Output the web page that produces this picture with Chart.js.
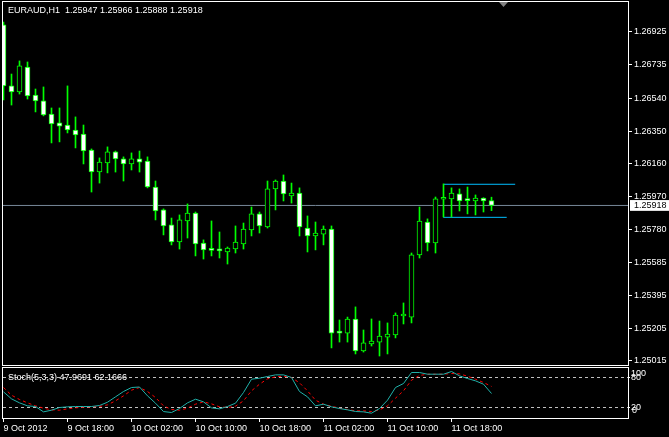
<!DOCTYPE html>
<html><head><meta charset="utf-8">
<script src="https://cdn.jsdelivr.net/npm/chart.js@4"></script>
<style>
html,body{margin:0;padding:0;background:#000;overflow:hidden}
#wrap{position:relative;width:669px;height:437px;background:#000}
canvas{position:absolute;left:0}
#cA{top:0}
#cB{top:366px}
</style></head><body>
<div id="wrap"><canvas id="cA" width="669" height="366"></canvas><canvas id="cB" width="669" height="71"></canvas></div>
<script>
const symbol = 'EURAUD,H1';
const openP = [1.26966,1.26612,1.26577,1.26722,1.26559,1.26525,1.26449,1.26397,1.26385,1.26356,
1.26333,1.26240,1.26112,1.26165,1.26229,1.26188,1.26159,1.26188,1.26176,1.26025,
1.25892,1.25805,1.25706,1.25828,1.25874,1.25700,1.25660,1.25660,1.25648,1.25665,
1.25694,1.25776,1.25869,1.25793,1.26014,1.26060,1.25973,1.25990,1.25787,1.25741,
1.25752,1.25781,1.25180,1.25177,1.25259,1.25073,1.25114,1.25125,1.25154,1.25166,
1.25276,1.25270,1.25631,1.25822,1.25700,1.25954,1.25956,1.25985,1.25950,1.25944,
1.25961,1.25947];
const highP = [1.26983,1.26681,1.26757,1.26751,1.26594,1.26606,1.26484,1.26484,1.26612,1.26432,
1.26385,1.26246,1.26194,1.26258,1.26234,1.26200,1.26223,1.26234,1.26200,1.26060,
1.25898,1.25845,1.25863,1.25927,1.25880,1.25718,1.25828,1.25764,1.25677,1.25799,
1.25816,1.25909,1.25880,1.26060,1.26066,1.26095,1.26048,1.26020,1.25857,1.25822,
1.25799,1.25799,1.25253,1.25270,1.25329,1.25195,1.25259,1.25247,1.25236,1.25294,
1.25352,1.25642,1.25909,1.25840,1.25967,1.26043,1.26020,1.26014,1.26025,1.25979,
1.25963,1.25966];
const lowP = [1.26530,1.26501,1.26565,1.26536,1.26461,1.26438,1.26281,1.26287,1.26339,1.26252,
1.26159,1.25996,1.26048,1.26107,1.26112,1.26060,1.26124,1.26112,1.26020,1.25834,
1.25747,1.25689,1.25665,1.25729,1.25625,1.25607,1.25625,1.25613,1.25578,1.25642,
1.25665,1.25741,1.25758,1.25787,1.25892,1.25944,1.25932,1.25741,1.25648,1.25660,
1.25689,1.25091,1.25125,1.25125,1.25056,1.25067,1.25102,1.25044,1.25056,1.25149,
1.25230,1.25236,1.25613,1.25654,1.25642,1.25851,1.25851,1.25886,1.25869,1.25863,
1.25880,1.25888];
const closeP = [1.26612,1.26577,1.26728,1.26554,1.26525,1.26443,1.26391,1.26379,1.26356,1.26327,
1.26234,1.26112,1.26170,1.26229,1.26188,1.26159,1.26188,1.26170,1.26025,1.25886,
1.25799,1.25706,1.25834,1.25874,1.25694,1.25660,1.25657,1.25654,1.25671,1.25706,
1.25781,1.25869,1.25799,1.26014,1.26060,1.25985,1.25990,1.25793,1.25741,1.25758,
1.25781,1.25177,1.25177,1.25259,1.25073,1.25120,1.25131,1.25160,1.25172,1.25282,
1.25280,1.25631,1.25828,1.25700,1.25956,1.25958,1.25990,1.25944,1.25946,1.25961,
1.25944,1.25918];

const stochMain = [51.3,37.3,29.3,23.3,22,11.3,14.6,20,21.3,22,
22,22,24,30.6,41.3,52,60,61,43.3,28.6,
11.9,10,18,29.3,36.6,31.3,19.3,17.3,22,28.6,
50,76.6,78.6,82,85.3,85.3,80,52,41.3,23.3,
26.6,21.3,18,15.3,12,11.3,8.6,18,34.6,60,
68,90,90,86.6,86.6,86.6,92,83.3,78,73.3,
66.6,47.9691];
const stochSignal = [60,44.6,36,29.3,23.3,18.6,15.3,14.6,17.3,19.3,
20.6,21.3,22,25.3,33.3,43.3,54.6,60,52,40,
23.3,16,14.6,18.6,26.6,31.3,27.3,21.3,20,22.6,
33.3,53.3,66.6,77.3,81.3,82.6,80,69.3,53.3,34.6,
26.6,22.6,18.6,16,13.3,13.3,12,15.3,23.3,38.6,
53.3,74.6,84,86.6,86.6,86.6,88,87.3,82.6,76.6,
70,62.1666];

const priceTicks = [1.25015,1.25205,1.25395,1.25585,1.25780,1.25970,1.26160,1.26350,1.26540,1.26735,1.26925];
const lastPrice = 1.25918;
const timeTickIdx = [0,8,16,24,32,40,48,56];
const timeTickLabels = ['9 Oct 2012','9 Oct 18:00','10 Oct 02:00','10 Oct 10:00','10 Oct 18:00','11 Oct 02:00','11 Oct 10:00','11 Oct 18:00'];
const stochLevels = [20, 80];
const boxTop = 1.26041, boxBottom = 1.25849;
const boxStart = 55, boxEndTop = 63.96, boxEndBottom = 62.9;

const N = openP.length;
const idx = openP.map((_, i) => i);
const X_MIN = -0.0625, X_MAX = 78.0625;
const Y_MIN = 1.24991778, Y_MAX = 1.27099164;
const FONT = {family: '"Liberation Sans", Arial, sans-serif', size: 9};
const FONT_CSS = '9px "Liberation Sans", Arial, sans-serif';
const GREEN = '#00FF00';

const frame = {
  id: 'frame',
  afterDraw(chart) {
    const {ctx, chartArea: a} = chart;
    ctx.save();
    ctx.strokeStyle = '#ffffff'; ctx.lineWidth = 1;
    ctx.strokeRect(a.left - 0.5, a.top - 0.5, a.right - a.left + 1, a.bottom - a.top + 1);
    ctx.restore();
  }
};

const mainText = {
  id: 'mainText',
  afterDraw(chart) {
    const ctx = chart.ctx;
    ctx.save();
    ctx.font = FONT_CSS; ctx.fillStyle = '#ffffff'; ctx.textBaseline = 'middle'; ctx.textAlign = 'left';
    const t = symbol + '  ' + [openP[N-1], highP[N-1], lowP[N-1], closeP[N-1]].map(v => v.toFixed(5)).join(' ');
    ctx.fillText(t, 8, 11);
    const xs = chart.scales.x;
    const px = xs.getPixelForValue(62.5);
    ctx.fillStyle = '#808080';
    ctx.beginPath(); ctx.moveTo(px - 4.5, 2); ctx.lineTo(px + 4.5, 2); ctx.lineTo(px, 7); ctx.closePath(); ctx.fill();
    ctx.restore();
  }
};

new Chart(document.getElementById('cA'), {
  type: 'bar',
  data: {
    datasets: [
      {
        type: 'bar', order: 0,
        data: idx.map(i => ({x: i, y: [openP[i], closeP[i]]})),
        backgroundColor: idx.map(i => closeP[i] < openP[i] ? '#ffffff' : '#000000'),
        borderColor: GREEN, borderWidth: 1, borderSkipped: false,
        barThickness: 5, grouped: false, minBarLength: 2
      },
      {
        type: 'bar', order: 1,
        data: idx.map(i => ({x: i, y: [lowP[i], highP[i]]})),
        backgroundColor: GREEN, borderWidth: 0,
        barThickness: 1, grouped: false
      },
      {
        type: 'line', order: 2,
        data: [{x: boxStart, y: boxBottom}, {x: boxStart, y: boxTop}, {x: boxEndTop, y: boxTop}],
        borderColor: '#00BFFF', borderWidth: 1, pointRadius: 0, tension: 0
      },
      {
        type: 'line', order: 3,
        data: [{x: boxStart, y: boxBottom}, {x: boxEndBottom, y: boxBottom}],
        borderColor: '#00BFFF', borderWidth: 1, pointRadius: 0, tension: 0
      },
      {
        type: 'line', order: 4,
        data: [{x: X_MIN, y: lastPrice}, {x: X_MAX, y: lastPrice}],
        borderColor: '#778899', borderWidth: 1, pointRadius: 0, tension: 0
      }
    ]
  },
  options: {
    responsive: false, animation: false, devicePixelRatio: 1,
    layout: {padding: {left: 3, top: 2, right: 0, bottom: 1}},
    plugins: {legend: {display: false}, tooltip: {enabled: false}, title: {display: false}},
    scales: {
      x: {type: 'linear', min: X_MIN, max: X_MAX, offset: false, display: false, grid: {offset: false}},
      y: {
        position: 'right', min: Y_MIN, max: Y_MAX,
        afterBuildTicks: s => { s.ticks = priceTicks.concat([lastPrice]).map(v => ({value: v})); },
        afterFit: s => { s.width = 41; s.paddingTop = 0; s.paddingBottom = 0; },
        grid: {drawOnChartArea: false, drawTicks: true, tickLength: 4, lineWidth: 1,
               color: c => (c.tick && c.tick.value === lastPrice) ? 'rgba(0,0,0,0)' : '#ffffff'},
        border: {display: false},
        ticks: {
          autoSkip: false, padding: 2, font: FONT,
          color: c => (c.tick && c.tick.value === lastPrice) ? '#000000' : '#ffffff',
          callback: v => Number(v).toFixed(5),
          showLabelBackdrop: c => !!(c.tick && c.tick.value === lastPrice),
          backdropColor: '#ffffff',
          backdropPadding: {left: 4, right: 3, top: 0, bottom: 0}
        }
      }
    }
  },
  plugins: [frame, mainText]
});

const stochText = {
  id: 'stochText',
  afterDraw(chart) {
    const ctx = chart.ctx;
    const ys = chart.scales.y;
    const a = chart.chartArea;
    ctx.save();
    ctx.font = FONT_CSS; ctx.fillStyle = '#ffffff'; ctx.textBaseline = 'middle'; ctx.textAlign = 'left';
    ctx.fillText('Stoch(5,3,3) ' + stochMain[N-1].toFixed(4) + ' ' + stochSignal[N-1].toFixed(4), 8, 12);
    ctx.fillText('100', a.right + 3, ys.getPixelForValue(100) + 6);
    ctx.fillText('0', a.right + 4, ys.getPixelForValue(0) - 7);
    ctx.restore();
  }
};

new Chart(document.getElementById('cB'), {
  type: 'line',
  data: {
    datasets: [
      {data: idx.map(i => ({x: i, y: stochMain[i]})), borderColor: '#20B2AA', borderWidth: 1, pointRadius: 0, tension: 0, order: 0},
      {data: idx.map(i => ({x: i, y: stochSignal[i]})), borderColor: '#FF0000', borderWidth: 1, borderDash: [3, 3], pointRadius: 0, tension: 0, order: 1},
      ...stochLevels.map((lv, j) => ({data: [{x: X_MIN, y: lv}, {x: X_MAX, y: lv}], borderColor: '#C0C0C0', borderWidth: 1, borderDash: [3, 3], pointRadius: 0, order: 2 + j}))
    ]
  },
  options: {
    responsive: false, animation: false, devicePixelRatio: 1,
    layout: {padding: {left: 3, top: 2, right: 0, bottom: 0}},
    plugins: {legend: {display: false}, tooltip: {enabled: false}},
    scales: {
      x: {
        type: 'linear', min: X_MIN, max: X_MAX, offset: false, position: 'bottom',
        afterBuildTicks: s => { s.ticks = timeTickIdx.map(v => ({value: v})); },
        afterFit: s => { s.height = 19; s.paddingLeft = 0; s.paddingRight = 0; },
        grid: {drawOnChartArea: false, drawTicks: true, tickLength: 4, color: '#ffffff', offset: false},
        border: {display: false},
        ticks: {autoSkip: false, maxRotation: 0, minRotation: 0, align: 'start', padding: 1, font: FONT, color: '#ffffff',
                callback: (v, i) => timeTickLabels[i]}
      },
      y: {
        position: 'right', min: -1, max: 99,
        afterBuildTicks: s => { s.ticks = stochLevels.map(v => ({value: v})); },
        afterFit: s => { s.width = 41; s.paddingTop = 0; s.paddingBottom = 0; },
        grid: {drawOnChartArea: false, drawTicks: true, tickLength: 2, color: '#ffffff'},
        border: {display: false},
        ticks: {autoSkip: false, padding: 1, font: FONT, color: '#ffffff', callback: v => String(v)}
      }
    }
  },
  plugins: [frame, stochText]
});
</script>
</body></html>
